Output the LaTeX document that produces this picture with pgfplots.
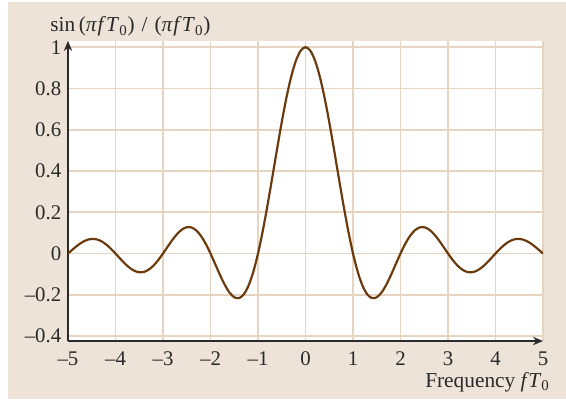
\documentclass[border=0pt]{standalone}
\usepackage{fontspec}
\setmainfont{Liberation Serif}
\usepackage{pgfplots}
\pgfplotsset{compat=1.18}
\usepackage{pgfplotstable}
\usetikzlibrary{arrows.meta}
\definecolor{bgc}{HTML}{EDE3D8}
\definecolor{gridc}{HTML}{E6D4C0}
\definecolor{curvec}{HTML}{6B3A0C}
\definecolor{axc}{HTML}{2A2A2A}
\pgfplotstableread{
x y
-5.0 0
-4.9 0.02007
-4.8 0.03898
-4.7 0.05479
-4.6 0.06581
-4.5 0.07074
-4.4 0.06880
-4.3 0.05989
-4.2 0.04455
-4.1 0.02399
-4.0 0
-3.9 -0.02522
-3.8 -0.04924
-3.7 -0.06960
-3.6 -0.08409
-3.5 -0.09095
-3.4 -0.08904
-3.3 -0.07804
-3.2 -0.05847
-3.1 -0.03173
-3.0 0
-2.9 0.03392
-2.8 0.06682
-2.7 0.09538
-2.6 0.11643
-2.5 0.12732
-2.4 0.12614
-2.3 0.11196
-2.2 0.08504
-2.1 0.04684
-2.0 0
-1.9 -0.05177
-1.8 -0.10394
-1.7 -0.15148
-1.6 -0.18921
-1.5 -0.21221
-1.4 -0.21624
-1.3 -0.19809
-1.2 -0.15592
-1.1 -0.08942
-1.0 0
-0.9 0.10929
-0.8 0.23387
-0.7 0.36788
-0.6 0.50455
-0.5 0.63662
-0.4 0.75683
-0.3 0.85839
-0.2 0.93549
-0.1 0.98363
0.0 1
0.1 0.98363
0.2 0.93549
0.3 0.85839
0.4 0.75683
0.5 0.63662
0.6 0.50455
0.7 0.36788
0.8 0.23387
0.9 0.10929
1.0 0
1.1 -0.08942
1.2 -0.15592
1.3 -0.19809
1.4 -0.21624
1.5 -0.21221
1.6 -0.18921
1.7 -0.15148
1.8 -0.10394
1.9 -0.05177
2.0 0
2.1 0.04684
2.2 0.08504
2.3 0.11196
2.4 0.12614
2.5 0.12732
2.6 0.11643
2.7 0.09538
2.8 0.06682
2.9 0.03392
3.0 0
3.1 -0.03173
3.2 -0.05847
3.3 -0.07804
3.4 -0.08904
3.5 -0.09095
3.6 -0.08409
3.7 -0.06960
3.8 -0.04924
3.9 -0.02522
4.0 0
4.1 0.02399
4.2 0.04455
4.3 0.05989
4.4 0.06880
4.5 0.07074
4.6 0.06581
4.7 0.05479
4.8 0.03898
4.9 0.02007
5.0 0
}\sincdata
\begin{document}
\begin{tikzpicture}
\fill[bgc] (-36pt,-34.8pt) rectangle (298.8pt,203.4pt);
\begin{axis}[
  at={(0pt,0pt)}, anchor=south west,
  scale only axis, width=285pt, height=180pt,
  xmin=-5, xmax=5, ymin=-0.424, ymax=1.03,
  axis background/.style={fill=white},
  axis x line=bottom, axis y line=left,
  axis line style={axc, line width=0.8pt, -{Stealth[length=6pt,width=5pt]}},
  xtick={-5,-4,-3,-2,-1,0,1,2,3,4,5},
  xticklabels={\textendash5,\textendash4,\textendash3,\textendash2,\textendash1,0,1,2,3,4,5},
  ytick={-0.4,-0.2,0,0.2,0.4,0.6,0.8,1},
  yticklabels={\textendash0.4,\textendash0.2,0,0.2,0.4,0.6,0.8,1},
  grid=major,
  major grid style={gridc, line width=1.1pt},
  major tick length=0pt,
  tick label style={font=\fontsize{12.5}{14}\selectfont, text=axc},
  xticklabel style={yshift=-3pt},
  yticklabel style={xshift=-0.5pt},
]
\addplot[curvec, line width=1.3pt, smooth] table {\sincdata};
\end{axis}
\node[anchor=base west, font=\fontsize{12.8}{14}\selectfont, inner sep=0pt, text=axc] at (-10.8pt,185.4pt)
  {sin\,(\textit{π\kern0.6pt f\kern1.6pt T}\textsubscript{0})\kern1pt{} / \kern1pt(\textit{π\kern0.6pt f\kern1.6pt T}\textsubscript{0})};
\node[anchor=base east, font=\fontsize{12.8}{14}\selectfont, inner sep=0pt, text=axc] at (289.2pt,-27.6pt)
  {Frequency \textit{f\kern1pt T}\textsubscript{0}};
\pgfresetboundingbox
\useasboundingbox (-40.8pt,-36pt) rectangle (298.8pt,204.6pt);
\end{tikzpicture}
\end{document}
